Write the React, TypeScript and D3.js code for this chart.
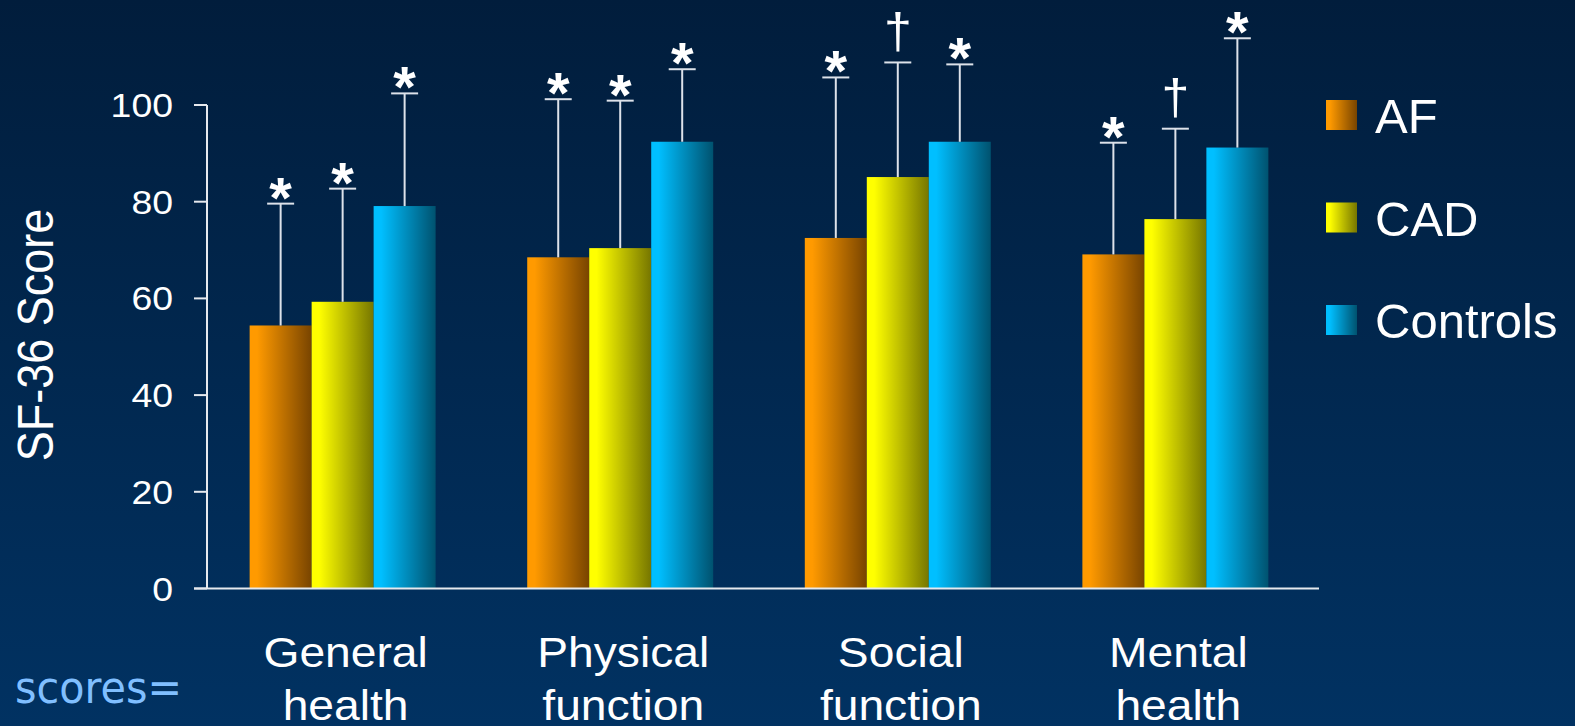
import React from "react";
import * as d3 from "d3";

const categories = ["General health", "Physical function", "Social function", "Mental health"];
const seriesNames = ["AF", "CAD", "Controls"];
const afMeans = [54.4, 68.5, 72.5, 69.1];
const afSD = [25.2, 32.7, 33.2, 23.1];
const cadMeans = [59.3, 70.4, 85.1, 76.4];
const cadSD = [23.4, 30.5, 23.7, 18.7];
const controlMeans = [79.1, 92.4, 92.4, 91.2];
const controlSD = [23.3, 15.0, 16.0, 22.6];
const afMarks = ["*", "*", "*", "*"];
const cadMarks = ["*", "*", "†", "†"];
const controlMarks = ["*", "*", "*", "*"];
const yTicks = [0, 20, 40, 60, 80, 100];

const seriesColors = [
  ["#ff9a00", "#784400"],
  ["#ffff00", "#767600"],
  ["#00bfff", "#00526f"],
];

const W = 1575;
const H = 726;
const FONT = "'Liberation Sans', Arial, sans-serif";

export default function App() {
  const y = d3.scaleLinear().domain([0, 100]).range([588.5, 105]);
  const x0 = d3.scaleBand<string>().domain(categories).range([208, 1310]).paddingInner(0.33).paddingOuter(0.15);
  const x1 = d3.scaleBand<string>().domain(seriesNames).range([0, x0.bandwidth()]).padding(0);
  const means = [afMeans, cadMeans, controlMeans];
  const sds = [afSD, cadSD, controlSD];
  const marks = [afMarks, cadMarks, controlMarks];
  const axisX = 207;
  const axisRight = 1319;
  const legendY = d3.scaleLinear().domain([0, 2]).range([100, 305]);

  return (
    <div style={{ position: "absolute", left: 0, top: 0 }}>
      <svg width={W} height={H} style={{ display: "block" }}>
        <defs>
          <linearGradient id="bg" x1="0" y1="0" x2="0" y2="1">
            <stop offset="0" stopColor="#011d3c" />
            <stop offset="1" stopColor="#013262" />
          </linearGradient>
          {seriesColors.map((c, i) => (
            <linearGradient key={i} id={`g${i}`} x1="0" y1="0" x2="1" y2="0">
              <stop offset="0" stopColor={c[0]} />
              <stop offset="0.12" stopColor={c[0]} />
              <stop offset="1" stopColor={c[1]} />
            </linearGradient>
          ))}
        </defs>
        <rect x={0} y={0} width={W} height={H} fill="url(#bg)" />

        {/* bars */}
        {categories.map((cat, ci) => (
          <g key={cat}>
            {seriesNames.map((s, si) => {
              const bx = (x0(cat) as number) + (x1(s) as number);
              const bw = x1.bandwidth();
              const v = means[si][ci];
              return (
                <rect key={s} x={bx} y={y(v)} width={bw} height={y(0) - y(v)} fill={`url(#g${si})`} />
              );
            })}
          </g>
        ))}

        {/* error bars */}
        {categories.map((cat, ci) => (
          <g key={cat + "e"}>
            {seriesNames.map((s, si) => {
              const cx = (x0(cat) as number) + (x1(s) as number) + x1.bandwidth() / 2;
              const v = means[si][ci];
              const top = v + sds[si][ci];
              const mk = marks[si][ci];
              return (
                <g key={s}>
                  <line x1={cx} x2={cx} y1={y(v)} y2={y(top)} stroke="#dde2ea" strokeWidth={2} />
                  <line x1={cx - 13.5} x2={cx + 13.5} y1={y(top)} y2={y(top)} stroke="#dde2ea" strokeWidth={2} />
                  {mk === "*" ? (
                    <text x={cx} y={y(top) + 14} textAnchor="middle" fill="#ffffff" fontFamily={FONT} fontWeight="bold" fontSize={58}>
                      {mk}
                    </text>
                  ) : (
                    <text x={cx} y={y(top) - 14.5} textAnchor="middle" fill="#ffffff" fontFamily={FONT} fontSize={50}>
                      {mk}
                    </text>
                  )}
                </g>
              );
            })}
          </g>
        ))}

        {/* axes */}
        <line x1={axisX} x2={axisX} y1={y(100)} y2={y(0)} stroke="#e6e9ee" strokeWidth={2} />
        <line x1={axisX - 13} x2={axisRight} y1={y(0)} y2={y(0)} stroke="#e6e9ee" strokeWidth={2} />
        {yTicks.map((t) => (
          <g key={t}>
            <line x1={axisX - 13} x2={axisX} y1={y(t)} y2={y(t)} stroke="#e6e9ee" strokeWidth={2} />
            <text
              transform={`translate(${axisX - 34},${y(t) + 12}) scale(1.1,1)`}
              textAnchor="end"
              fill="#ffffff"
              fontFamily={FONT}
              fontSize={34}
            >
              {t}
            </text>
          </g>
        ))}

        {/* y title */}
        <text
          transform={`translate(35,335) scale(1.11,1) rotate(-90)`}
          y={16}
          textAnchor="middle"
          fill="#ffffff"
          fontFamily={FONT}
          fontSize={45}
        >
          SF-36 Score
        </text>

        {/* category labels */}
        {categories.map((cat) => {
          const cx = (x0(cat) as number) + x0.bandwidth() / 2 + 3;
          const parts = cat.split(" ");
          return (
            <g key={cat + "l"}>
              {parts.map((p, i) => (
                <text
                  key={i}
                  transform={`translate(${cx},${667 + i * 53}) scale(1.075,1)`}
                  textAnchor="middle"
                  fill="#ffffff"
                  fontFamily={FONT}
                  fontSize={43}
                >
                  {p}
                </text>
              ))}
            </g>
          );
        })}

        {/* legend */}
        {seriesNames.map((s, i) => (
          <g key={s + "lg"}>
            <rect x={1326} y={legendY(i)} width={31} height={30} fill={`url(#g${i})`} />
            <text x={1375} y={legendY(i) + 33} fill="#ffffff" fontFamily={FONT} fontSize={49}>
              {s}
            </text>
          </g>
        ))}

        {/* scores= */}
        <text
          x={15}
          y={703}
          fill="#80bfff"
          fontFamily="'Comic Sans MS', 'DejaVu Sans', sans-serif"
          fontSize={44}
          textLength={167}
          lengthAdjust="spacingAndGlyphs"
        >
          scores=
        </text>
      </svg>
    </div>
  );
}
